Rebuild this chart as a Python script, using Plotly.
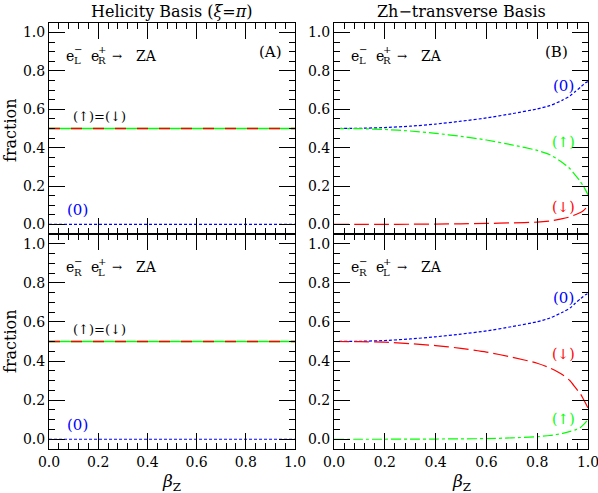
import plotly.graph_objects as go

# ---------------- data ----------------
beta = [0, 0.1, 0.2, 0.3, 0.4, 0.5, 0.6, 0.7, 0.8, 0.85, 0.9, 0.93, 0.95, 0.97, 0.98, 0.99, 1.0]

# Helicity basis (constant)
hel_beta = [0.0, 1.0]
hel_trans = [0.5, 0.5]   # (up) = (down)
hel_long = [0.0, 0.0]    # (0)

# Zh-transverse basis, e-_L e+_R
zhLR_zero = [0.5, 0.501, 0.505, 0.512, 0.523, 0.538, 0.555, 0.577, 0.602, 0.619, 0.648, 0.671, 0.693, 0.715, 0.727, 0.738, 0.745]
zhLR_up = [0.5, 0.499, 0.495, 0.487, 0.475, 0.459, 0.44, 0.415, 0.386, 0.363, 0.322, 0.289, 0.257, 0.223, 0.203, 0.18, 0.155]
zhLR_down = [0, 0.0, 0.0, 0.001, 0.002, 0.003, 0.005, 0.008, 0.012, 0.018, 0.03, 0.04, 0.05, 0.062, 0.07, 0.082, 0.1]

# Zh-transverse basis, e-_R e+_L
zhRL_zero = [0.5, 0.501, 0.505, 0.513, 0.524, 0.538, 0.554, 0.576, 0.601, 0.62, 0.65, 0.672, 0.696, 0.718, 0.729, 0.739, 0.746]
zhRL_down = [0.5, 0.499, 0.497, 0.489, 0.479, 0.465, 0.446, 0.42, 0.389, 0.365, 0.33, 0.298, 0.265, 0.232, 0.21, 0.185, 0.16]
zhRL_up = [0, 0.0, 0.0, 0.001, 0.001, 0.002, 0.003, 0.007, 0.013, 0.019, 0.03, 0.04, 0.048, 0.06, 0.072, 0.085, 0.102]

# ---------------- style ----------------
BLUE = "#0000ff"
GREEN = "#00ff00"
RED = "#ff0000"
DASH_ZERO = "3px,2px"
DASH_UP = "10px,3px,3px,3px"
DASH_DOWN = "15px,5px"
FONT = "DejaVu Serif"
LW = 1.2

W, H = 598, 493
xdomL = [49 / W, 295 / W]
xdomR = [334 / W, 588 / W]
ydomT = [1 - 234 / H, 1 - 23 / H]
ydomB = [1 - 449 / H, 1 - 234 / H]

fig = go.Figure()

def add(x, y, color, dash, xa, ya, shape="spline", width=LW):
    fig.add_trace(go.Scatter(x=x, y=y, mode="lines", xaxis=xa, yaxis=ya,
                             line=dict(color=color, dash=dash, width=width, shape=shape, smoothing=0.6),
                             showlegend=False, hoverinfo="skip"))

# panel 1 : helicity LR
add(hel_beta, hel_long, BLUE, DASH_ZERO, "x", "y", "linear")
add(hel_beta, hel_trans, GREEN, "solid", "x", "y", "linear", 1.6)
add(hel_beta, hel_trans, RED, "11px,11px", "x", "y", "linear", 1.6)
# panel 2 : Zh LR
add(beta, zhLR_zero, BLUE, DASH_ZERO, "x2", "y2")
add(beta, zhLR_up, GREEN, DASH_UP, "x2", "y2")
add(beta, zhLR_down, RED, DASH_DOWN, "x2", "y2")
# panel 3 : helicity RL
add(hel_beta, hel_long, BLUE, DASH_ZERO, "x3", "y3", "linear")
add(hel_beta, hel_trans, GREEN, "solid", "x3", "y3", "linear", 1.6)
add(hel_beta, hel_trans, RED, "11px,11px", "x3", "y3", "linear", 1.6)
# panel 4 : Zh RL
add(beta, zhRL_zero, BLUE, DASH_ZERO, "x4", "y4")
add(beta, zhRL_down, RED, DASH_DOWN, "x4", "y4")
add(beta, zhRL_up, GREEN, DASH_UP, "x4", "y4")

def xaxis(dom, anchor, labels):
    return dict(domain=dom, anchor=anchor, range=[0, 1], automargin=False,
                tickmode="linear", tick0=0, dtick=0.2, tickformat=".1f",
                showticklabels=labels, ticklabeloverflow="allow",
                ticks="inside", ticklen=16, tickwidth=1, tickcolor="black",
                minor=dict(ticks="inside", ticklen=6, dtick=0.04, tick0=0,
                           tickcolor="black", tickwidth=1, showgrid=False),
                showline=True, linecolor="black", linewidth=1, mirror="ticks",
                showgrid=False, zeroline=False, layer="above traces",
                tickfont=dict(family=FONT, size=14, color="black"))

def yaxis(dom, anchor):
    return dict(domain=dom, anchor=anchor, range=[-0.05, 1.05], automargin=False,
                tickmode="linear", tick0=0, dtick=0.2, tickformat=".1f",
                ticklabeloverflow="allow",
                ticks="inside", ticklen=16, tickwidth=1, tickcolor="black",
                minor=dict(ticks="inside", ticklen=6, dtick=0.05, tick0=0,
                           tickcolor="black", tickwidth=1, showgrid=False),
                showline=True, linecolor="black", linewidth=1, mirror="ticks",
                showgrid=False, zeroline=False, layer="above traces",
                tickfont=dict(family=FONT, size=14, color="black"))

fig.update_layout(
    template="none",
    width=W, height=H, margin=dict(l=0, r=0, t=0, b=0, pad=0),
    paper_bgcolor="white", plot_bgcolor="white",
    font=dict(family=FONT, size=13, color="black"),
    xaxis=xaxis(xdomL, "y", False), yaxis=yaxis(ydomT, "x"),
    xaxis2=xaxis(xdomR, "y2", False), yaxis2=yaxis(ydomT, "x2"),
    xaxis3=xaxis(xdomL, "y3", True), yaxis3=yaxis(ydomB, "x3"),
    xaxis4=xaxis(xdomR, "y4", True), yaxis4=yaxis(ydomB, "x4"),
)

ann = []
def txt(x, y, s, xref, yref, color="black", xanchor="center", size=15, xshift=0, yshift=0):
    ann.append(dict(x=x, y=y, xref=xref, yref=yref, text=s, showarrow=False,
                    xanchor=xanchor, yanchor="middle", xshift=xshift, yshift=yshift,
                    font=dict(family=FONT, size=size, color=color)))

def reaction(xref, yref, sub1, sub2):
    # e^-_{sub1} e^+_{sub2} -> ZA with stacked super/subscripts
    x0, y0 = 0.06, 0.88
    txt(x0, y0, "e", xref, yref, xanchor="left", size=14)
    txt(x0, y0, "−", xref, yref, xanchor="left", size=10, xshift=8, yshift=6)
    txt(x0, y0, sub1, xref, yref, xanchor="left", size=10, xshift=8, yshift=-5)
    txt(x0, y0, "e", xref, yref, xanchor="left", size=14, xshift=25)
    txt(x0, y0, "+", xref, yref, xanchor="left", size=10, xshift=32, yshift=6)
    txt(x0, y0, sub2, xref, yref, xanchor="left", size=10, xshift=32, yshift=-5)
    txt(x0, y0, "→", xref, yref, xanchor="left", size=12, xshift=46)
    txt(x0, y0, "ZA", xref, yref, xanchor="left", size=14, xshift=70)

# panel 1
reaction("x", "y", "L", "R")
txt(0.9, 0.9, "(A)", "x", "y")
txt(0.09, 0.56, "(↑)=(↓)", "x", "y", xanchor="left", size=13)
txt(0.115, 0.075, "(0)", "x", "y", color=BLUE)
# panel 2
reaction("x2", "y2", "L", "R")
txt(0.874, 0.9, "(B)", "x2", "y2")
txt(0.905, 0.72, "(0)", "x2", "y2", color=BLUE)
txt(0.905, 0.43, "(↑)", "x2", "y2", color=GREEN, size=14)
txt(0.905, 0.09, "(↓)", "x2", "y2", color=RED, size=14)
# panel 3
reaction("x3", "y3", "R", "L")
txt(0.09, 0.56, "(↑)=(↓)", "x3", "y3", xanchor="left", size=13)
txt(0.115, 0.075, "(0)", "x3", "y3", color=BLUE)
# panel 4
reaction("x4", "y4", "R", "L")
txt(0.905, 0.725, "(0)", "x4", "y4", color=BLUE)
txt(0.905, 0.434, "(↓)", "x4", "y4", color=RED, size=14)
txt(0.905, 0.104, "(↑)", "x4", "y4", color=GREEN, size=14)

# titles and axis labels (paper coords)
def ptxt(xpx, ypx, s, size=16, angle=0):
    ann.append(dict(x=xpx / W, y=1 - ypx / H, xref="paper", yref="paper", text=s,
                    showarrow=False, xanchor="center", yanchor="middle", textangle=angle,
                    font=dict(family=FONT, size=size, color="black")))

ptxt(172, 12, "Helicity Basis (<i>ξ</i>=<i>π</i>)", 16)
ptxt(461, 12, "Zh−transverse Basis", 16)
ptxt(10, 130, "fraction", 16, -90)
ptxt(10, 341, "fraction", 16, -90)
ptxt(172, 482, "<i>β</i><sub>Z</sub>", 17)
ptxt(461, 482, "<i>β</i><sub>Z</sub>", 17)

fig.update_layout(annotations=ann)
fig.write_html("out.html", config={"displayModeBar": False},
               post_script="document.body.style.margin='0';document.body.style.overflow='hidden';")
